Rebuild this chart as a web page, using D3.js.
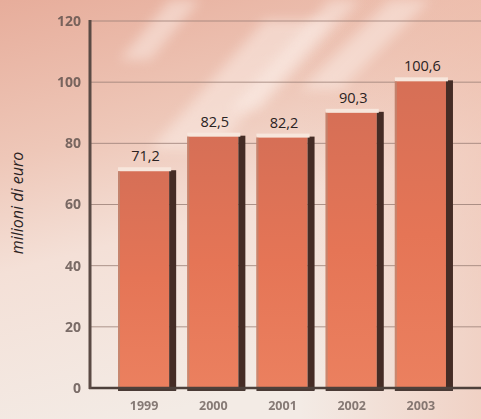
<!DOCTYPE html>
<html><head><meta charset="utf-8">
<script src="https://cdn.jsdelivr.net/npm/d3@7"></script>
<style>html,body{margin:0;padding:0;background:#f3e6df;}svg{display:block;}</style>
</head><body>
<script>
const years = ["1999","2000","2001","2002","2003"];
const values = [71.2, 82.5, 82.2, 90.3, 100.6];
const valueLabels = ["71,2","82,5","82,2","90,3","100,6"];
const yTicks = [0,20,40,60,80,100,120];
const yTitle = "milioni di euro";

const W = 481, H = 419;
const svg = d3.select("body").append("svg").attr("width", W).attr("height", H);
const defs = svg.append("defs");

// background gradient
const bg = defs.append("linearGradient").attr("id","bg").attr("x1","0").attr("y1","0").attr("x2","0.3").attr("y2","1");
bg.append("stop").attr("offset","0").attr("stop-color","#e7ad9b");
bg.append("stop").attr("offset","0.35").attr("stop-color","#eec7b8");
bg.append("stop").attr("offset","0.6").attr("stop-color","#f4e0d7");
bg.append("stop").attr("offset","1").attr("stop-color","#f3ebe5");
svg.append("rect").attr("width",W).attr("height",H).attr("fill","url(#bg)");

// right side pink tint
const rg = defs.append("linearGradient").attr("id","rg").attr("x1","0").attr("y1","0").attr("x2","1").attr("y2","0");
rg.append("stop").attr("offset","0").attr("stop-color","#eebcaa").attr("stop-opacity",0);
rg.append("stop").attr("offset","1").attr("stop-color","#eebcaa").attr("stop-opacity",0.55);
svg.append("rect").attr("x",300).attr("y",0).attr("width",181).attr("height",H).attr("fill","url(#rg)");

// diagonal light streaks (decoration)
const streaks = [
  [[150,150],[215,150],[330,20],[265,20]],
  [[230,110],[260,110],[360,0],[330,0]],
  [[300,90],[340,90],[430,0],[390,0]],
  [[120,60],[150,60],[200,0],[170,0]]
];
svg.append("g").selectAll("polygon").data(streaks).join("polygon")
  .attr("points", d => d.map(p => p.join(",")).join(" "))
  .attr("fill","#fbeee8").attr("opacity",0.5)
  .style("filter","blur(6px)");

const x = d3.scaleBand().domain(years).range([112.5, 458.5]).paddingInner(0.16).paddingOuter(0.08);
const y = d3.scaleLinear().domain([0,120]).range([388, 21]);

// gridlines
svg.append("g").selectAll("line").data(yTicks.filter(t => t > 0)).join("line")
  .attr("x1", 91).attr("x2", W).attr("y1", d => y(d)).attr("y2", d => y(d))
  .attr("stroke","#9a7f76").attr("stroke-width",1).attr("opacity",0.8);

// y axis
const yAxis = d3.axisLeft(y).tickValues(yTicks).tickSize(0).tickPadding(9);
const ya = svg.append("g").attr("transform","translate(90,0)").call(yAxis);
ya.select(".domain").remove();
ya.selectAll("text").attr("font-family","'Open Sans', sans-serif").attr("font-size",14)
  .attr("font-weight","bold").attr("fill","#5c4e4a").attr("opacity",0.8);

// bar gradient
const bgGrad = defs.append("linearGradient").attr("id","bar").attr("x1","0").attr("y1","0").attr("x2","0").attr("y2","1");
bgGrad.append("stop").attr("offset","0").attr("stop-color","#d66f56");
bgGrad.append("stop").attr("offset","0.5").attr("stop-color","#e57556");
bgGrad.append("stop").attr("offset","1").attr("stop-color","#eb805f");

const data = years.map((yr,i) => ({yr, v: values[i], lab: valueLabels[i]}));
const bars = svg.append("g").selectAll("g").data(data).join("g");
const shadowW = 7;
bars.append("rect").attr("class","face")
  .attr("x", d => x(d.yr)).attr("y", d => y(d.v))
  .attr("width", x.bandwidth() - shadowW).attr("height", d => y(0) - y(d.v))
  .attr("fill","url(#bar)");
bars.append("rect")
  .attr("x", d => x(d.yr) + x.bandwidth() - shadowW).attr("y", d => y(d.v))
  .attr("width", shadowW).attr("height", d => y(0) - y(d.v) + 2)
  .attr("fill","#452c25");
bars.append("rect")
  .attr("x", d => x(d.yr)).attr("y", d => y(d.v) - 3)
  .attr("width", x.bandwidth() - shadowW + 2).attr("height", 4)
  .attr("fill","#f7e6dc");
bars.append("rect")
  .attr("x", d => x(d.yr)).attr("y", d => y(d.v) + 1)
  .attr("width", 2).attr("height", d => y(0) - y(d.v) - 1)
  .attr("fill","#b98b78").attr("opacity",0.7);
bars.append("rect")
  .attr("x", d => x(d.yr)).attr("y", y(0) - 1)
  .attr("width", x.bandwidth()).attr("height", 4)
  .attr("fill","#4a3a35");

// value labels
bars.append("text")
  .attr("x", d => x(d.yr) + (x.bandwidth() - shadowW) / 2 + 2)
  .attr("y", d => y(d.v) - 9)
  .attr("text-anchor","middle")
  .attr("font-family","'Open Sans', sans-serif").attr("font-size",14.5)
  .attr("fill","#2a2222")
  .text(d => d.lab);

// x axis line
svg.append("line").attr("x1",89).attr("x2",W).attr("y1",y(0)).attr("y2",y(0))
  .attr("stroke","#4d403b").attr("stroke-width",2.5);
// y axis line
svg.append("line").attr("x1",90).attr("x2",90).attr("y1",y(120)-1).attr("y2",y(0)+1)
  .attr("stroke","#5a4a44").attr("stroke-width",3);

// x labels
const xAxis = d3.axisBottom(x).tickSize(0).tickPadding(13);
const xa = svg.append("g").attr("transform",`translate(${-3},${y(0)})`).call(xAxis);
xa.select(".domain").remove();
xa.selectAll("text").attr("font-family","'Open Sans', sans-serif").attr("font-size",12.5)
  .attr("font-weight","bold").attr("fill","#6b5e5a").attr("opacity",0.8);

// y title
svg.append("text")
  .attr("transform","translate(23,203) rotate(-90)")
  .attr("text-anchor","middle")
  .attr("font-family","'Open Sans', sans-serif").attr("font-size",16)
  .attr("font-style","italic").attr("fill","#2a2222")
  .text(yTitle);
</script>
</body></html>
